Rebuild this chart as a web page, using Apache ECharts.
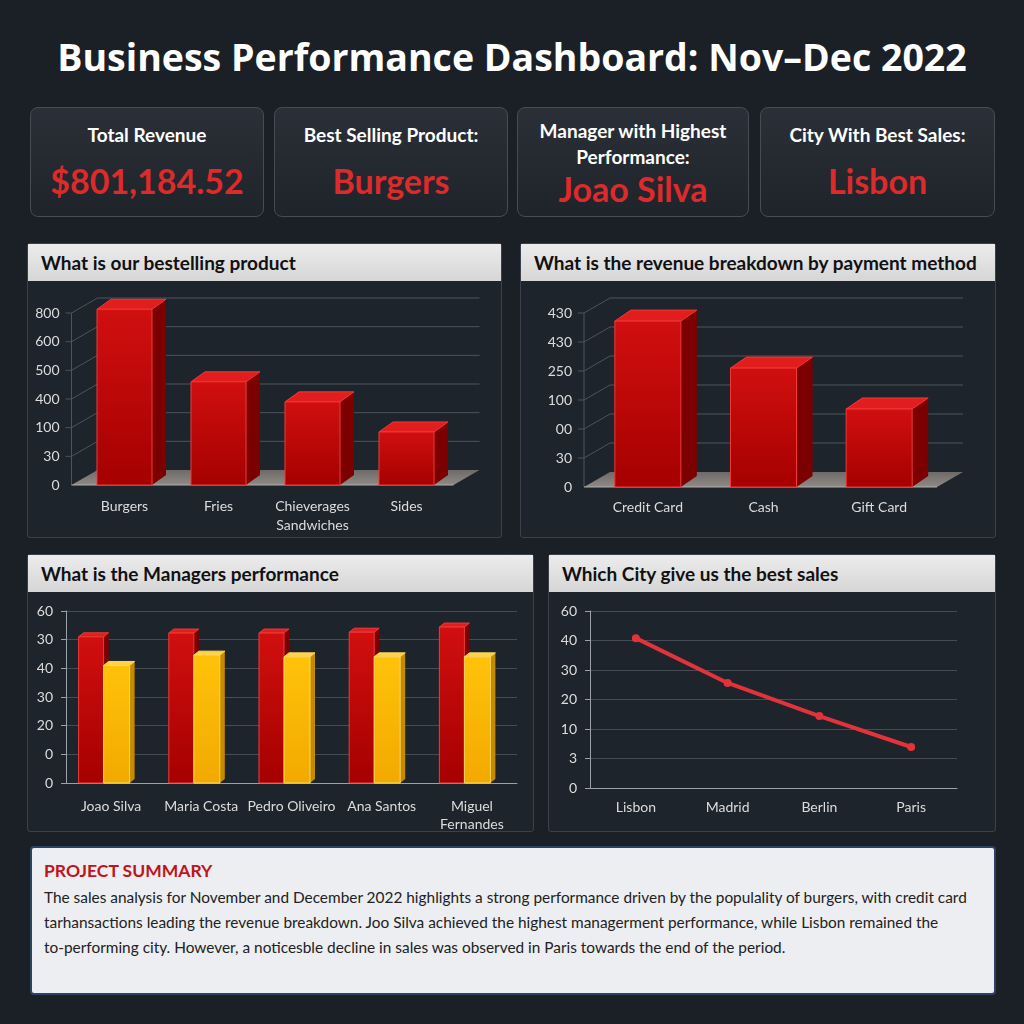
<!DOCTYPE html>
<html>
<head>
<meta charset="utf-8">
<script src="https://cdn.jsdelivr.net/npm/echarts@6/dist/echarts.min.js"></script>
<style>
  html, body { margin: 0; padding: 0; }
  body { width: 1024px; height: 1024px; background: #1b2027; position: relative; overflow: hidden; font-family: Lato, "Open Sans", sans-serif; }
  .title { position: absolute; left: 0; top: 31px; width: 1024px; text-align: center; color: #fff; font: bold 37.5px "Open Sans", sans-serif; }
  .card { position: absolute; top: 107px; height: 110px; box-sizing: border-box; border: 1px solid #454c56; border-radius: 8px;
          background: linear-gradient(#2b3038, #1f242b); text-align: center; color: #fff; }
  .card .lbl { font: bold 19px Lato, sans-serif; line-height: 26px; }
  .card .val { font: bold 34px Lato, sans-serif; color: #dd2a2a; }
  .panel { position: absolute; box-sizing: border-box; border: 1px solid #3a414b; border-radius: 3px; background: #1e242b; }
  .panel .hd { height: 37px; background: linear-gradient(#ececec, #d6d6d6); color: #111; font: bold 19px Lato, sans-serif; line-height: 38px; padding-left: 13px; }
  .summary { position: absolute; left: 30px; top: 846px; width: 966px; height: 149px; box-sizing: border-box; border: 2px solid #2f4066; border-radius: 4px; background: #eceef1; padding: 12px 12px; }
  .summary .st { color: #c0141c; font: bold 17.5px Lato, sans-serif; margin-bottom: 4px; }
  .summary .tx { color: #222; font: 15.4px Lato, sans-serif; line-height: 25px; white-space: nowrap; }
  #chart { position: absolute; left: 0; top: 0; width: 1024px; height: 1024px; }
</style>
</head>
<body>
<div class="title">Business Performance Dashboard: Nov–Dec 2022</div>

<div class="card" style="left:30px;width:234px"><div class="lbl" style="margin-top:14px">Total Revenue</div><div class="val" style="margin-top:12px">$801,184.52</div></div>
<div class="card" style="left:274px;width:234px"><div class="lbl" style="margin-top:14px">Best Selling Product:</div><div class="val" style="margin-top:12px">Burgers</div></div>
<div class="card" style="left:517px;width:232px"><div class="lbl" style="margin-top:10px">Manager with Highest<br>Performance:</div><div class="val" style="margin-top:-2px">Joao Silva</div></div>
<div class="card" style="left:760px;width:235px"><div class="lbl" style="margin-top:14px">City With Best Sales:</div><div class="val" style="margin-top:12px">Lisbon</div></div>

<div class="panel" style="left:27px;top:243px;width:475px;height:295px"><div class="hd">What is our bestelling product</div></div>
<div class="panel" style="left:520px;top:243px;width:476px;height:295px"><div class="hd">What is the revenue breakdown by payment method</div></div>
<div class="panel" style="left:27px;top:554px;width:507px;height:278px"><div class="hd">What is the Managers performance</div></div>
<div class="panel" style="left:548px;top:554px;width:448px;height:278px"><div class="hd">Which City give us the best sales</div></div>

<div class="summary">
  <div class="st">PROJECT SUMMARY</div>
  <div class="tx">The sales analysis for November and December 2022 highlights a strong performance driven by the populality of burgers, with credit card<br>tarhansactions leading the revenue breakdown. Joo Silva achieved the highest managerment performance, while Lisbon remained the<br>to-performing city. However, a noticesble decline in sales was observed in Paris towards the end of the period.</div>
</div>

<div id="chart"></div>

<script>
// data (3D charts use tick-step units, labels as printed)
const productCats = ['Burgers', 'Fries', 'Chieverages\nSandwiches', 'Sides'];
const productVals = [6.13, 3.6, 2.9, 1.85];
const productTicks = ['0', '30', '100', '400', '500', '600', '800'];

const paymentCats = ['Credit Card', 'Cash', 'Gift Card'];
const paymentVals = [5.72, 4.1, 2.69];
const paymentTicks = ['0', '30', '00', '100', '250', '430', '430'];

const managers = ['Joao Silva', 'Maria Costa', 'Pedro Oliveiro', 'Ana Santos', 'Miguel\nFernandes'];
const managersRed = [51, 52.3, 52.3, 52.6, 54.4];
const managersYellow = [41, 44.6, 44, 44, 44];
const managerTicks = ['0', '0', '20', '30', '40', '30', '60'];

const cities = ['Lisbon', 'Madrid', 'Berlin', 'Paris'];
const cityVals = [50.8, 35.6, 24.4, 13.9];
const cityTicks = ['0', '3', '10', '20', '30', '40', '60'];

const RED = { front: ['#d10f0f', '#a50000'], side: '#7c0000', top: '#e11d1d', edge: '#f03a3a' };
const YEL = { front: ['#ffc20a', '#f2a900'], side: '#c48a00', top: '#ffd24a', edge: '#ffd95e' };

// 3D-looking bar drawn from the axis coordinates
function bar3d(col, w, offset, dx, dy) {
  return function (params, api) {
    const base = api.coord([api.value(0), 0]);
    const top = api.coord([api.value(0), api.value(1)]);
    const x0 = base[0] + offset - w / 2, x1 = x0 + w;
    const yb = base[1], yt = top[1];
    return {
      type: 'group',
      children: [
        { type: 'polygon', shape: { points: [[x1, yt], [x1 + dx, yt + dy], [x1 + dx, yb + dy], [x1, yb]] }, style: { fill: col.side } },
        { type: 'polygon', shape: { points: [[x0, yt], [x0 + dx, yt + dy], [x1 + dx, yt + dy], [x1, yt]] }, style: { fill: col.top, stroke: col.edge, lineWidth: 1 } },
        { type: 'rect', shape: { x: x0, y: yt, width: w, height: yb - yt },
          style: { fill: new echarts.graphic.LinearGradient(0, 0, 0, 1, [{ offset: 0, color: col.front[0] }, { offset: 1, color: col.front[1] }]), stroke: col.edge, lineWidth: 1 } }
      ]
    };
  };
}

// floor + back-wall grid for the 3D charts
function floor3d(nTicks, dx, dy) {
  return function (params, api) {
    const cs = params.coordSys;
    const xl = cs.x - 6, xr = cs.x + cs.width;
    const y0 = api.coord([0, 0])[1];
    const kids = [];
    for (let i = 1; i < nTicks; i++) {
      const y = api.coord([0, i])[1];
      kids.push({ type: 'polyline', shape: { points: [[xl - 6, y], [xl, y], [xl + dx, y + dy], [xr + dx, y + dy]] }, style: { stroke: '#4d545d', lineWidth: 1, fill: null } });
    }
    kids.push({ type: 'line', shape: { x1: xl, y1: y0, x2: xl, y2: api.coord([0, nTicks - 1])[1] }, style: { stroke: '#4d545d', lineWidth: 1 } });
    kids.push({ type: 'polygon', shape: { points: [[xl, y0], [xr, y0], [xr + dx, y0 + dy], [xl + dx, y0 + dy]] },
      style: { fill: new echarts.graphic.LinearGradient(0, 0, 0, 1, [{ offset: 0, color: '#6e6a67' }, { offset: 1, color: '#8f8a86' }]) } });
    kids.push({ type: 'line', shape: { x1: xl, y1: y0, x2: xr, y2: y0 }, style: { stroke: '#b0aca8', lineWidth: 1 } });
    return { type: 'group', children: kids };
  };
}

const labelStyle = { color: '#dcdcdc', fontSize: 14, fontFamily: 'Lato, sans-serif' };
const tickFmt = (ticks, step) => (v) => ticks[Math.round(v / step)];
const pairs = (arr) => arr.map((v, i) => [i, v]);

const chart = echarts.init(document.getElementById('chart'), null, { renderer: 'canvas' });

const option = {
  backgroundColor: 'transparent',
  animation: false,
  grid: [
    { left: 77.5, top: 313, width: 376, height: 172 },
    { left: 590, top: 313, width: 347, height: 174 },
    { left: 66, top: 611, width: 451, height: 172 },
    { left: 590, top: 611, width: 367, height: 177 }
  ],
  xAxis: [
    { gridIndex: 0, type: 'category', data: productCats, axisLine: { show: false }, axisTick: { show: false },
      axisLabel: { ...labelStyle, margin: 12, lineHeight: 19, interval: 0 } },
    { gridIndex: 1, type: 'category', data: paymentCats, axisLine: { show: false }, axisTick: { show: false },
      axisLabel: { ...labelStyle, margin: 13, interval: 0 } },
    { gridIndex: 2, type: 'category', data: managers, axisLine: { lineStyle: { color: '#9aa1aa' } }, axisTick: { lineStyle: { color: '#9aa1aa' } },
      axisLabel: { ...labelStyle, margin: 14, lineHeight: 18, interval: 0 } },
    { gridIndex: 3, type: 'category', data: cities, axisLine: { lineStyle: { color: '#9aa1aa' } }, axisTick: { inside: true, lineStyle: { color: '#9aa1aa' } },
      axisLabel: { ...labelStyle, margin: 12, interval: 0 } }
  ],
  yAxis: [
    { gridIndex: 0, type: 'value', min: 0, max: 6, interval: 1, splitLine: { show: false },
      axisLabel: { ...labelStyle, margin: 18, formatter: tickFmt(productTicks, 1) } },
    { gridIndex: 1, type: 'value', min: 0, max: 6, interval: 1, splitLine: { show: false },
      axisLabel: { ...labelStyle, margin: 18, formatter: tickFmt(paymentTicks, 1) } },
    { gridIndex: 2, type: 'value', min: 0, max: 60, interval: 10, splitLine: { lineStyle: { color: '#454c55' } },
      axisLine: { show: true, lineStyle: { color: '#9aa1aa' } }, axisTick: { show: true, lineStyle: { color: '#9aa1aa' } },
      axisLabel: { ...labelStyle, margin: 13, formatter: tickFmt(managerTicks, 10) } },
    { gridIndex: 3, type: 'value', min: 0, max: 60, interval: 10, splitLine: { lineStyle: { color: '#454c55' } },
      axisLine: { show: true, lineStyle: { color: '#9aa1aa' } }, axisTick: { show: true, lineStyle: { color: '#9aa1aa' } },
      axisLabel: { ...labelStyle, margin: 13, formatter: tickFmt(cityTicks, 10) } }
  ],
  series: [
    { type: 'custom', xAxisIndex: 0, yAxisIndex: 0, z: 1, data: [[0, 0]], renderItem: floor3d(productTicks.length, 26, -15) },
    { type: 'custom', xAxisIndex: 0, yAxisIndex: 0, z: 2, data: pairs(productVals), renderItem: bar3d(RED, 55, 0, 14, -10) },
    { type: 'custom', xAxisIndex: 1, yAxisIndex: 1, z: 1, data: [[0, 0]], renderItem: floor3d(paymentTicks.length, 26, -15) },
    { type: 'custom', xAxisIndex: 1, yAxisIndex: 1, z: 2, data: pairs(paymentVals), renderItem: bar3d(RED, 66, 0, 16, -11) },
    { type: 'custom', xAxisIndex: 2, yAxisIndex: 2, z: 2, data: pairs(managersRed), renderItem: bar3d(RED, 25, -20, 5, -4) },
    { type: 'custom', xAxisIndex: 2, yAxisIndex: 2, z: 2, data: pairs(managersYellow), renderItem: bar3d(YEL, 26, 5.5, 5, -4) },
    { type: 'line', xAxisIndex: 3, yAxisIndex: 3, data: cityVals, symbol: 'circle', symbolSize: 8,
      lineStyle: { color: '#e2333b', width: 4 }, itemStyle: { color: '#e2333b' } }
  ]
};

chart.setOption(option);
</script>
</body>
</html>
